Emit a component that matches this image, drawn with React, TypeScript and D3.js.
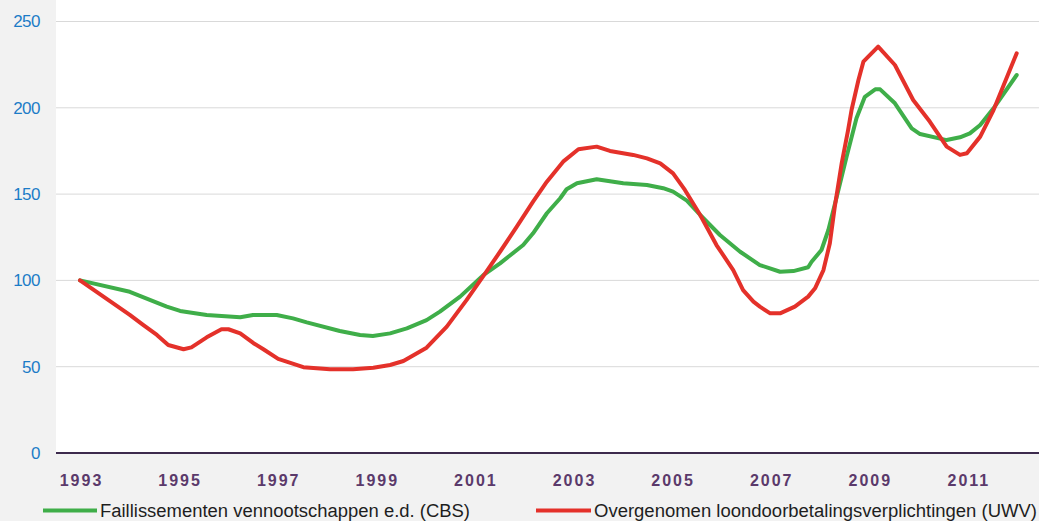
import { useEffect, useRef } from 'react';
import * as d3 from 'd3';

// readings taken off the source chart (year as decimal, index 1993 = 100)
const cbsYears = [
  1993.0, 1994.01, 1994.76, 1995.03, 1995.57, 1996.25, 1996.51, 1996.99, 1997.32, 1997.6,
  1998.27, 1998.68, 1998.94, 1999.29, 1999.63, 2000.03, 2000.3, 2000.71, 2001.18, 2001.52,
  2001.99, 2002.19, 2002.47, 2002.74, 2002.87, 2003.08, 2003.48, 2004.02, 2004.5, 2004.83,
  2005.03, 2005.31, 2005.58, 2005.98, 2006.39, 2006.79, 2007.2, 2007.47, 2007.77, 2007.84,
  2008.04, 2008.18, 2008.35, 2008.55, 2008.75, 2008.92, 2009.13, 2009.23, 2009.53, 2009.87,
  2010.04, 2010.58, 2010.85, 2011.05, 2011.26, 2011.53, 2012.0,
];
const cbsValues = [
  100, 93.4, 84.8, 82.3, 80, 78.6, 80, 80, 78, 75.7,
  70.7, 68.4, 67.8, 69.3, 72.2, 77, 81.9, 90.6, 103, 109.9,
  120.5, 127.3, 138.9, 147.6, 152.8, 156.3, 158.6, 156.3, 155.3, 153.4,
  151.4, 146.2, 137.9, 126.3, 116.6, 108.9, 105, 105.4, 107.6, 110.8,
  117.6, 129.2, 148.5, 171.7, 194, 206.4, 210.7, 210.7, 202.6, 188.1,
  184.8, 181.3, 182.9, 185.2, 190, 199.7, 219,
];

const uwvYears = [
  1993.0, 1994.01, 1994.28, 1994.56, 1994.79, 1995.1, 1995.26, 1995.57, 1995.87, 1996.01,
  1996.25, 1996.52, 1996.72, 1997.02, 1997.53, 1998.07, 1998.54, 1998.95, 1999.29, 1999.56,
  2000.03, 2000.44, 2000.84, 2001.18, 2001.52, 2001.86, 2002.19, 2002.47, 2002.8, 2003.11,
  2003.48, 2003.75, 2004.22, 2004.5, 2004.77, 2005.03, 2005.27, 2005.58, 2005.91, 2006.25,
  2006.45, 2006.66, 2006.79, 2007.0, 2007.2, 2007.5, 2007.77, 2007.91, 2008.08, 2008.21,
  2008.31, 2008.45, 2008.58, 2008.65, 2008.79, 2008.89, 2009.19, 2009.53, 2009.9, 2010.24,
  2010.58, 2010.85, 2010.99, 2011.26, 2011.53, 2012.0,
];
const uwvValues = [
  100, 80, 74.2, 68.4, 62.6, 60.1, 61.2, 67, 71.7, 71.7,
  69.3, 63.6, 60.1, 54.5, 49.7, 48.5, 48.5, 49.4, 51, 53.3,
  61, 73.2, 88.6, 102.5, 116.6, 131.1, 145.6, 157.2, 168.8, 176,
  177.5, 175, 172.7, 170.7, 167.8, 162, 152.4, 137.9, 120.5, 106,
  94.4, 87.7, 84.8, 80.9, 80.9, 84.8, 90.6, 95.4, 106, 121.5,
  142.7, 167.8, 187.1, 198.7, 216.1, 226.7, 235.4, 224.8, 204.5, 191.9,
  177.5, 172.7, 173.7, 183.3, 198.7, 231.6,
];

const yearTicks = [1993, 1995, 1997, 1999, 2001, 2003, 2005, 2007, 2009, 2011];
const valueTicks = [0, 50, 100, 150, 200, 250];

const seriesNames = [
  'Faillissementen vennootschappen e.d. (CBS)',
  'Overgenomen loondoorbetalingsverplichtingen (UWV)',
];

const width = 1039;
const height = 521;

const App = () => {
  const svgRef = useRef<SVGSVGElement | null>(null);

  useEffect(() => {
    const svg = d3.select(svgRef.current);
    svg.selectAll('*').remove();

    const plot = { left: 56, right: width, top: 0, bottom: 453 };

    const x = d3.scaleLinear().domain([1993, 2012]).range([80, 1016.7]);
    const y = d3.scaleLinear().domain([0, 250]).range([plot.bottom, 21.5]);

    svg.append('rect')
      .attr('width', width)
      .attr('height', height)
      .attr('fill', '#f2f2f2');

    svg.append('rect')
      .attr('x', plot.left)
      .attr('y', plot.top)
      .attr('width', plot.right - plot.left)
      .attr('height', plot.bottom - plot.top)
      .attr('fill', '#ffffff');

    // gridlines
    svg.append('g')
      .selectAll('line')
      .data(valueTicks.filter((v) => v > 0))
      .join('line')
      .attr('x1', plot.left)
      .attr('x2', plot.right)
      .attr('y1', (d) => y(d))
      .attr('y2', (d) => y(d))
      .attr('stroke', '#d9d9d9')
      .attr('stroke-width', 1);

    // y axis labels
    const yAxis = svg.append('g')
      .attr('transform', `translate(${plot.left}, 0)`)
      .call(d3.axisLeft(y).tickValues(valueTicks).tickSize(0).tickPadding(16));
    yAxis.select('.domain').remove();
    yAxis.selectAll('text')
      .attr('fill', '#1c7cc7')
      .attr('font-size', 17)
      .attr('font-family', 'Liberation Sans, Arial, sans-serif')
      .attr('letter-spacing', '-0.5px');

    // x axis labels
    const xAxis = svg.append('g')
      .attr('transform', `translate(0, ${plot.bottom})`)
      .call(d3.axisBottom(x).tickValues(yearTicks).tickFormat(d3.format('d')).tickSize(0).tickPadding(21.5));
    xAxis.select('.domain').remove();
    xAxis.selectAll('text')
      .attr('fill', '#5b3a6b')
      .attr('font-size', 16)
      .attr('font-weight', 'bold')
      .attr('font-family', 'Liberation Sans, Arial, sans-serif')
      .attr('letter-spacing', '2px')
      .attr('dx', '1px');

    // zero line
    svg.append('line')
      .attr('x1', plot.left)
      .attr('x2', plot.right)
      .attr('y1', y(0))
      .attr('y2', y(0))
      .attr('stroke', '#3d2b4d')
      .attr('stroke-width', 2);

    const line = d3.line<[number, number]>()
      .x((d) => x(d[0]))
      .y((d) => y(d[1]))
      .curve(d3.curveLinear);

    const cbs: [number, number][] = cbsYears.map((yr, i) => [yr, cbsValues[i]]);
    const uwv: [number, number][] = uwvYears.map((yr, i) => [yr, uwvValues[i]]);
    const colors = ['#3fae49', '#e4312a'];

    [cbs, uwv].forEach((series, i) => {
      svg.append('path')
        .datum(series)
        .attr('d', line)
        .attr('fill', 'none')
        .attr('stroke', colors[i])
        .attr('stroke-width', 4)
        .attr('stroke-linejoin', 'round')
        .attr('stroke-linecap', 'round');
    });

    // legend
    const legendItems = [
      { x1: 43, x2: 97, tx: 100, tw: 370 },
      { x1: 536, x2: 591, tx: 594, tw: 443 },
    ];
    legendItems.forEach((item, i) => {
      svg.append('line')
        .attr('x1', item.x1)
        .attr('x2', item.x2)
        .attr('y1', 510.5)
        .attr('y2', 510.5)
        .attr('stroke', colors[i])
        .attr('stroke-width', 4);
      svg.append('text')
        .attr('x', item.tx)
        .attr('y', 516.5)
        .attr('font-size', 18)
        .attr('font-family', 'Liberation Sans, Arial, sans-serif')
        .attr('fill', '#1e1e1e')
        .attr('textLength', item.tw)
        .attr('lengthAdjust', 'spacingAndGlyphs')
        .text(seriesNames[i]);
    });
  }, []);

  return (
    <svg
      ref={svgRef}
      width={width}
      height={height}
      style={{ position: 'absolute', left: 0, top: 0, display: 'block' }}
    />
  );
};

export default App;
